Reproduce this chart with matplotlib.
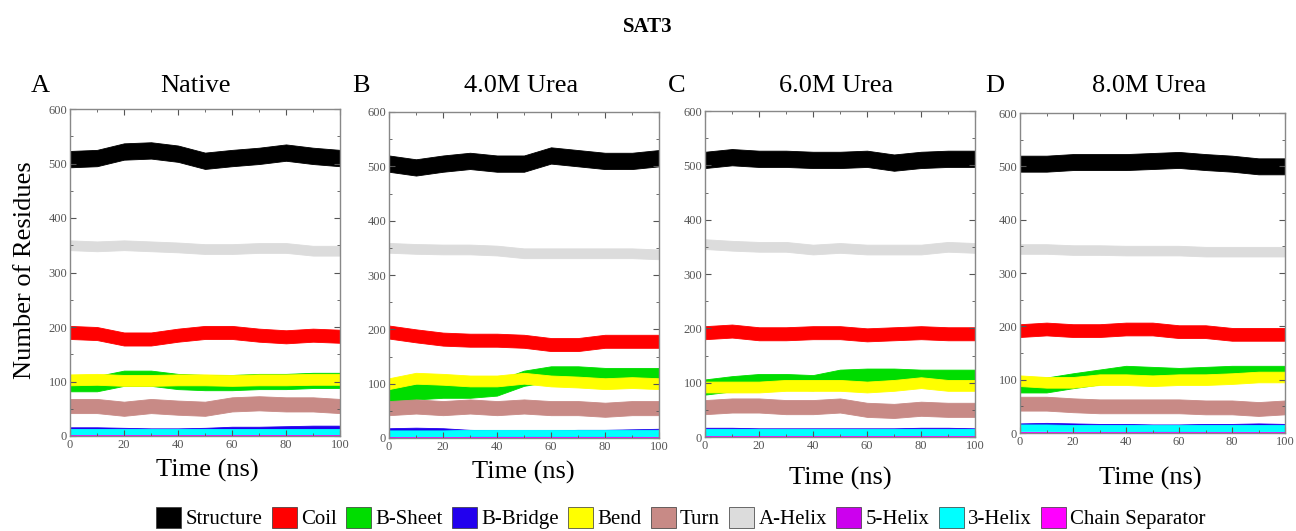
import matplotlib
matplotlib.use("Agg")
import matplotlib.pyplot as plt
from matplotlib.patches import Patch
from matplotlib.ticker import MultipleLocator
import numpy as np

plt.rcParams['font.family'] = ['Liberation Serif', 'DejaVu Serif']

# time axis (ns), values read every 10 ns
time_ns = [0, 10, 20, 30, 40, 50, 60, 70, 80, 90, 100]

panel_letters = ["A", "B", "C", "D"]
panel_titles = ["Native", "4.0M Urea", "6.0M Urea", "8.0M Urea"]

series_names = ["Structure", "Coil", "B-Sheet", "B-Bridge", "Bend", "Turn",
                "A-Helix", "5-Helix", "3-Helix", "Chain Separator"]
series_colors = ["#000000", "#ff0000", "#00dd00", "#2200ee", "#ffff00", "#c88a86",
                 "#dcdcdc", "#cc00ee", "#00ffff", "#ff00ff"]
# approx. fluctuation (half width of the band) for each series
band_half = [15, 12, 14, 6, 10, 13, 9, 1, 6, 1.5]

# Native
structure_native = [508, 510, 522, 524, 518, 505, 510, 514, 520, 514, 510]
coil_native = [190, 188, 178, 178, 185, 190, 190, 185, 182, 185, 183]
sheet_native = [96, 96, 106, 106, 100, 98, 98, 100, 100, 102, 102]
bridge_native = [10, 10, 9, 8, 8, 9, 11, 11, 12, 13, 13]
bend_native = [103, 104, 102, 102, 103, 103, 102, 103, 103, 104, 104]
turn_native = [55, 55, 50, 55, 52, 50, 58, 60, 58, 58, 55]
ahelix_native = [350, 348, 350, 348, 346, 343, 343, 345, 345, 340, 340]
helix3_native = [7, 7, 7, 7, 7, 7, 7, 7, 7, 7, 7]

# 4.0M urea
structure_u4 = [505, 498, 505, 510, 505, 505, 520, 515, 510, 510, 515]
coil_u4 = [195, 188, 182, 180, 180, 178, 172, 172, 178, 178, 178]
sheet_u4 = [80, 85, 88, 88, 92, 110, 118, 118, 115, 115, 115]
bridge_u4 = [12, 13, 12, 9, 8, 8, 8, 9, 9, 10, 11]
bend_u4 = [100, 110, 108, 105, 105, 110, 105, 103, 100, 102, 100]
turn_u4 = [55, 58, 55, 58, 55, 58, 55, 55, 52, 55, 55]
ahelix_u4 = [350, 348, 347, 347, 345, 340, 340, 340, 340, 340, 338]
helix3_u4 = [8, 8, 8, 9, 9, 9, 9, 9, 9, 9, 9]

# 6.0M urea
structure_u6 = [510, 515, 512, 512, 510, 510, 512, 505, 510, 512, 512]
coil_u6 = [192, 195, 190, 190, 192, 192, 188, 190, 192, 190, 190]
sheet_u6 = [92, 98, 102, 102, 100, 110, 112, 112, 110, 110, 110]
bridge_u6 = [11, 11, 10, 10, 10, 10, 10, 10, 11, 11, 10]
bend_u6 = [92, 92, 92, 95, 95, 95, 92, 95, 100, 95, 95]
turn_u6 = [55, 58, 58, 55, 55, 58, 50, 48, 52, 50, 50]
ahelix_u6 = [355, 352, 350, 350, 345, 348, 345, 345, 345, 350, 348]
helix3_u6 = [8, 8, 8, 8, 8, 8, 8, 8, 8, 8, 8]

# 8.0M urea
structure_u8 = [505, 505, 508, 508, 508, 510, 512, 508, 505, 500, 500]
coil_u8 = [192, 195, 192, 192, 195, 195, 190, 190, 185, 185, 185]
sheet_u8 = [90, 90, 98, 105, 112, 110, 108, 110, 112, 112, 112]
bridge_u8 = [12, 13, 12, 11, 11, 10, 10, 11, 11, 12, 11]
bend_u8 = [98, 95, 95, 100, 100, 98, 100, 100, 102, 105, 105]
turn_u8 = [55, 55, 52, 50, 50, 50, 50, 48, 48, 45, 48]
ahelix_u8 = [345, 345, 343, 343, 342, 342, 342, 340, 340, 340, 340]
helix3_u8 = [10, 10, 9, 9, 9, 9, 9, 9, 9, 9, 9]

zero_line = [0] * len(time_ns)

panels = [
    [structure_native, coil_native, sheet_native, bridge_native, bend_native,
     turn_native, ahelix_native, zero_line, helix3_native, zero_line],
    [structure_u4, coil_u4, sheet_u4, bridge_u4, bend_u4,
     turn_u4, ahelix_u4, zero_line, helix3_u4, zero_line],
    [structure_u6, coil_u6, sheet_u6, bridge_u6, bend_u6,
     turn_u6, ahelix_u6, zero_line, helix3_u6, zero_line],
    [structure_u8, coil_u8, sheet_u8, bridge_u8, bend_u8,
     turn_u8, ahelix_u8, zero_line, helix3_u8, zero_line],
]

W, H = 1296, 531
fig = plt.figure(figsize=(W / 100, H / 100), dpi=100)

# axes boxes in pixels: left, top, right, bottom
boxes = [(70, 109, 340, 436), (389, 112, 659, 438),
         (705, 111, 975, 437), (1020, 113, 1285, 433)]
letter_x = [40, 361, 677, 995]
title_x = [195, 521, 836, 1149]
xlabel_pos = [(207, 470), (523, 472), (840, 478), (1150, 478)]

for i, vals in enumerate(panels):
    l, t, r, b = boxes[i]
    ax = fig.add_axes([l / W, 1 - b / H, (r - l) / W, (b - t) / H])
    for k, y in enumerate(vals):
        y = np.array(y, dtype=float)
        hw = band_half[k]
        lo = np.maximum(y - hw, 0)
        ax.fill_between(time_ns, lo, y + hw, color=series_colors[k], lw=0.6,
                        edgecolor=series_colors[k], clip_on=False if k == 9 else True)
    ax.set_xlim(0, 100)
    ax.set_ylim(0, 600)
    ax.xaxis.set_major_locator(MultipleLocator(20))
    ax.xaxis.set_minor_locator(MultipleLocator(10))
    ax.yaxis.set_major_locator(MultipleLocator(100))
    ax.yaxis.set_minor_locator(MultipleLocator(50))
    ax.tick_params(which='both', direction='in', top=True, right=True,
                   colors='#555555', labelsize=9, pad=2)
    ax.tick_params(which='major', length=4)
    ax.tick_params(which='minor', length=2)
    for s in ax.spines.values():
        s.set_color('#888888')
        s.set_linewidth(1.0)

    fig.text(letter_x[i] / W, 1 - 86 / H, panel_letters[i], fontsize=19,
             ha='center', va='center')
    fig.text(title_x[i] / W, 1 - 86 / H, panel_titles[i], fontsize=19,
             ha='center', va='center')
    fig.text(xlabel_pos[i][0] / W, 1 - xlabel_pos[i][1] / H, "Time (ns)",
             fontsize=19, ha='center', va='center')

fig.text(25 / W, 1 - 270 / H, "Number of Residues", fontsize=19,
         rotation=90, ha='center', va='center')
fig.text(648 / W, 1 - 27 / H, "SAT3", fontsize=15, fontweight='bold',
         ha='center', va='center')

handles = [Patch(facecolor=c, edgecolor='#333333', lw=0.5) for c in series_colors]
fig.legend(handles, series_names, loc='center', ncol=10,
           bbox_to_anchor=(681 / W, 1 - 518 / H), frameon=False, fontsize=15,
           handlelength=1.2, handleheight=1.2, handletextpad=0.2,
           columnspacing=0.45, borderpad=0)

fig.savefig("out.png", dpi=100)
